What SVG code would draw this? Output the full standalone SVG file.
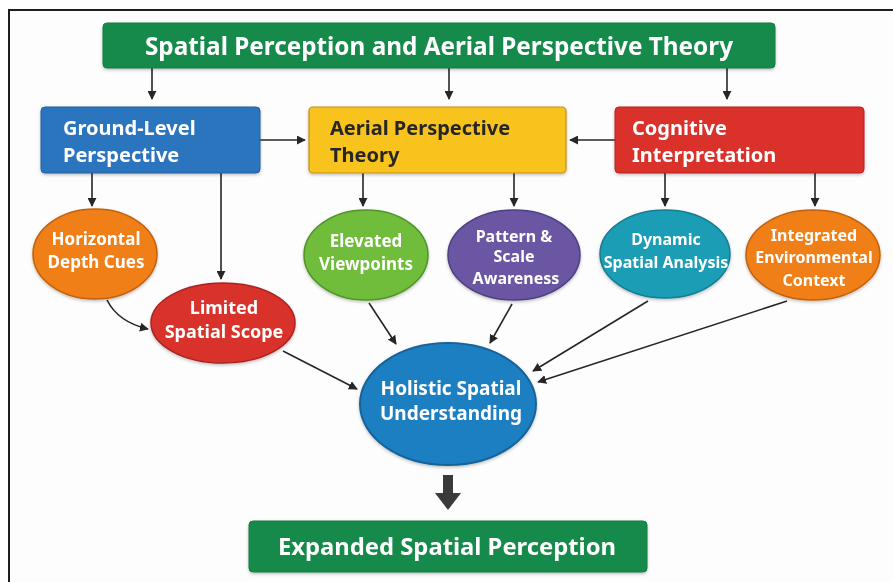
<svg xmlns="http://www.w3.org/2000/svg" width="893" height="582" viewBox="0 0 893 582">
  <defs>
    <marker id="arr" viewBox="0 0 10 10" refX="9" refY="5" markerWidth="9" markerHeight="9" markerUnits="userSpaceOnUse" orient="auto">
      <path d="M0,0 L10,5 L0,10 z" fill="#262626"/>
    </marker>
    <filter id="shadow" x="-10%" y="-10%" width="120%" height="130%">
      <feDropShadow dx="0" dy="1.5" stdDeviation="1.5" flood-color="#000" flood-opacity="0.25"/>
    </filter>
  </defs>
  <style>
    text { font-family: "Noto Sans", "Open Sans", "Liberation Sans", sans-serif; font-weight: bold; }
    .title { font-size: 24.3px; fill: #ffffff; text-anchor: middle; }
    .box { font-size: 20px; fill: #ffffff; }
    .dark { fill: #262626; }
    .ell { font-size: 16px; fill: #ffffff; text-anchor: middle; }
    .lg { font-size: 17px; }
    .big { font-size: 19px; fill: #ffffff; text-anchor: middle; }
    .conn { stroke: #262626; stroke-width: 1.6; fill: none; marker-end: url(#arr); }
    .shape { filter: url(#shadow); }
  </style>

  <!-- page and frame -->
  <rect x="0" y="0" width="893" height="582" fill="#ffffff"/>
  <rect x="9" y="10" width="900" height="600" fill="#fdfdfd" stroke="#1e1e1e" stroke-width="2"/>

  <!-- connectors -->
  <g id="connectors">
    <line class="conn" x1="152" y1="68" x2="152" y2="99"/>
    <line class="conn" x1="449" y1="68" x2="449" y2="99"/>
    <line class="conn" x1="727" y1="68" x2="727" y2="99"/>
    <line class="conn" x1="260" y1="140" x2="305" y2="140"/>
    <line class="conn" x1="615" y1="140" x2="570" y2="140"/>
    <line class="conn" x1="92" y1="173" x2="92" y2="206"/>
    <line class="conn" x1="221" y1="173" x2="221" y2="279"/>
    <line class="conn" x1="363" y1="173" x2="363" y2="206"/>
    <line class="conn" x1="514" y1="173" x2="514" y2="206"/>
    <line class="conn" x1="665" y1="173" x2="665" y2="206"/>
    <line class="conn" x1="815" y1="173" x2="815" y2="206"/>
    <path class="conn" d="M107,300 Q118,322 148,329"/>
    <line class="conn" x1="283" y1="351" x2="357" y2="389"/>
    <line class="conn" x1="369" y1="303" x2="396" y2="344"/>
    <line class="conn" x1="512" y1="304" x2="490" y2="343"/>
    <line class="conn" x1="648" y1="301" x2="533" y2="371"/>
    <line class="conn" x1="787" y1="301" x2="538" y2="382"/>
    <path d="M443,475 L453,475 L453,493 L461,493 L448,510 L435,493 L443,493 z" fill="#3a3a3a"/>
  </g>

  <!-- top title -->
  <g id="n-title" class="shape">
    <rect x="103" y="23" width="672" height="45" rx="4" fill="#178a4b" stroke="#127a40" stroke-width="1"/>
    <text class="title" x="439" y="55">Spatial Perception and Aerial Perspective Theory</text>
  </g>

  <!-- second row boxes -->
  <g id="n-ground" class="shape">
    <rect x="41" y="107" width="219" height="66" rx="4" fill="#2b74be" stroke="#215f9f" stroke-width="1"/>
    <text class="box" x="63" y="135">Ground-Level</text>
    <text class="box" x="63" y="162">Perspective</text>
  </g>
  <g id="n-aerial" class="shape">
    <rect x="309" y="107" width="257" height="66" rx="4" fill="#f8c31b" stroke="#c3921a" stroke-width="1.2"/>
    <text class="box dark" x="330" y="135">Aerial Perspective</text>
    <text class="box dark" x="330" y="162">Theory</text>
  </g>
  <g id="n-cognitive" class="shape">
    <rect x="615" y="107" width="249" height="66" rx="4" fill="#da302a" stroke="#b42420" stroke-width="1"/>
    <text class="box" x="632" y="135">Cognitive</text>
    <text class="box" x="632" y="162">Interpretation</text>
  </g>

  <!-- ellipses -->
  <g id="n-horizontal" class="shape">
    <ellipse cx="95" cy="254" rx="62" ry="45" fill="#ef7f16" stroke="#c2610c" stroke-width="1.5"/>
    <text class="ell lg" x="96" y="245">Horizontal</text>
    <text class="ell lg" x="96" y="268">Depth Cues</text>
  </g>
  <g id="n-limited" class="shape">
    <ellipse cx="223" cy="323" rx="72" ry="40" fill="#d9302b" stroke="#a92420" stroke-width="1.5"/>
    <text class="ell" style="font-size:18px" x="224" y="314">Limited</text>
    <text class="ell" style="font-size:18px" x="224" y="338">Spatial Scope</text>
  </g>
  <g id="n-elevated" class="shape">
    <ellipse cx="366" cy="255" rx="62" ry="45" fill="#6fbc3b" stroke="#4f9428" stroke-width="1.5"/>
    <text class="ell lg" x="366" y="247">Elevated</text>
    <text class="ell lg" x="366" y="270">Viewpoints</text>
  </g>
  <g id="n-pattern" class="shape">
    <ellipse cx="514" cy="255" rx="66" ry="45" fill="#6a56a2" stroke="#4e3f82" stroke-width="1.5"/>
    <text class="ell" x="514" y="242">Pattern &amp;</text>
    <text class="ell" x="514" y="262">Scale</text>
    <text class="ell" x="516" y="284">Awareness</text>
  </g>
  <g id="n-dynamic" class="shape">
    <ellipse cx="665" cy="254" rx="65" ry="44" fill="#1b9db6" stroke="#137c92" stroke-width="1.5"/>
    <text class="ell" x="666" y="245">Dynamic</text>
    <text class="ell" x="666" y="268">Spatial Analysis</text>
  </g>
  <g id="n-integrated" class="shape">
    <ellipse cx="813" cy="255" rx="67" ry="45" fill="#ef7f16" stroke="#c2610c" stroke-width="1.5"/>
    <text class="ell" x="814" y="241">Integrated</text>
    <text class="ell" x="814" y="263">Environmental</text>
    <text class="ell" x="814" y="286">Context</text>
  </g>

  <!-- central node -->
  <g id="n-holistic" class="shape">
    <ellipse cx="448" cy="404" rx="88" ry="61" fill="#1f7fc1" stroke="#17629a" stroke-width="2"/>
    <text class="big" x="451" y="395">Holistic Spatial</text>
    <text class="big" x="451" y="420">Understanding</text>
  </g>

  <!-- result -->
  <g id="n-expanded" class="shape">
    <rect x="249" y="521" width="398" height="51" rx="4" fill="#178a4b" stroke="#127a40" stroke-width="1"/>
    <text class="title" style="font-size:23.8px" x="447" y="555">Expanded Spatial Perception</text>
  </g>
</svg>
